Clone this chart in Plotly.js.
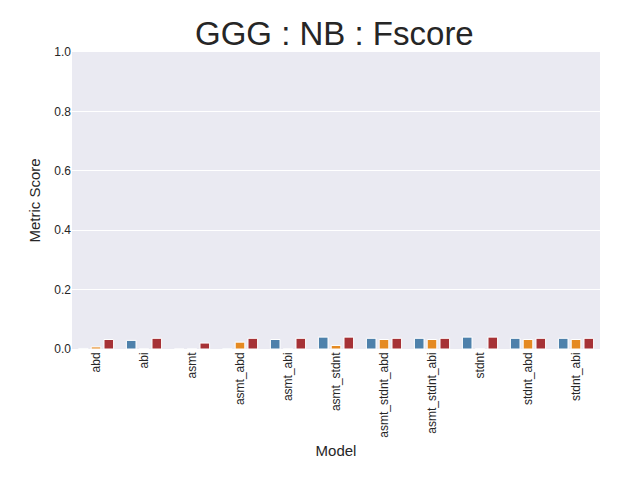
<!DOCTYPE html>
<html>
<head>
<script src="https://cdn.plot.ly/plotly-3.0.1.min.js"></script>
<style>body{margin:0}#plot{width:625px;height:500px}</style>
</head>
<body>
<div id="plot"></div>
<script>
const models = ['abd', 'abi', 'asmt', 'asmt_abd', 'asmt_abi', 'asmt_stdnt', 'asmt_stdnt_abd',
  'asmt_stdnt_abi', 'stdnt', 'stdnt_abd', 'stdnt_abi'];
const seriesA = [0.002, 0.029, 0, 0.001, 0.032, 0.040, 0.036, 0.036, 0.040, 0.036, 0.036];
const seriesB = [0.007, 0, 0, 0.023, 0, 0.012, 0.032, 0.032, 0, 0.032, 0.032];
const seriesC = [0.032, 0.036, 0.020, 0.036, 0.036, 0.040, 0.036, 0.036, 0.040, 0.036, 0.036];
const colors = ['#4e81ab', '#e58a22', '#a63236'];

const traces = [seriesA, seriesB, seriesC].map((vals, i) => ({
  type: 'bar',
  x: models,
  y: vals,
  marker: { color: colors[i], line: { color: '#ffffff', width: 1 } },
  hoverinfo: 'y'
}));

const layout = {
  width: 625,
  height: 500,
  paper_bgcolor: '#ffffff',
  plot_bgcolor: '#eaeaf2',
  font: { family: 'Liberation Sans, Arial, sans-serif', color: '#262626', size: 12 },
  title: { text: 'GGG : NB : Fscore', font: { size: 33 }, x: 0.535, y: 0.934, xanchor: 'center', yanchor: 'middle' },
  margin: { l: 72, r: 25, t: 52, b: 151 },
  showlegend: false,
  barmode: 'group',
  bargap: 0.2,
  bargroupgap: 0.25,
  xaxis: {
    title: { text: 'Model', font: { size: 15 }, standoff: 8 },
    tickangle: -90,
    showgrid: false,
    ticks: '',
    tickfont: { size: 12 }
  },
  yaxis: {
    title: { text: 'Metric Score', font: { size: 15 }, standoff: 10 },
    range: [0, 1],
    dtick: 0.2,
    tickformat: '.1f',
    gridcolor: '#ffffff',
    gridwidth: 1.2,
    zeroline: false,
    ticks: '',
    tickfont: { size: 12 }
  }
};

Plotly.newPlot('plot', traces, layout, { displayModeBar: false });
</script>
</body>
</html>
